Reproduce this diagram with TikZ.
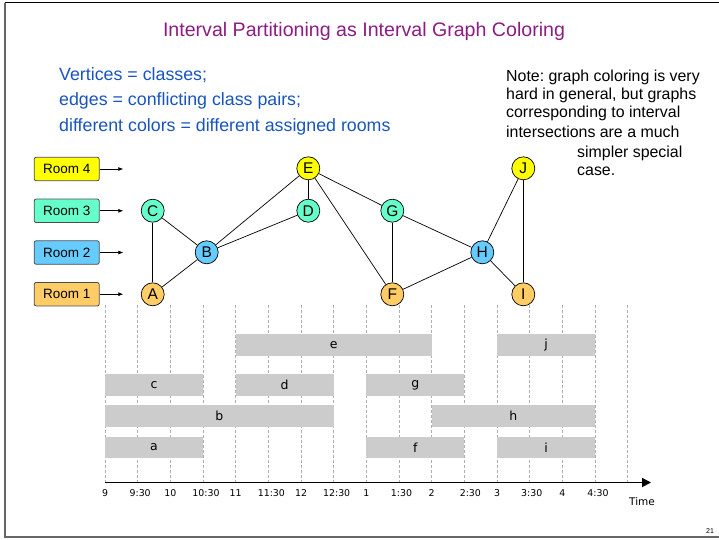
\documentclass[tikz,border=0pt]{standalone}
\usepackage{fontspec}
\setmainfont{Liberation Sans}
\newfontfamily\comicf{DejaVu Sans}
\usetikzlibrary{arrows.meta}
\frenchspacing
\definecolor{titlepurple}{RGB}{140,28,130}
\definecolor{textblue}{RGB}{24,84,190}
\definecolor{roomyellow}{RGB}{255,255,0}
\definecolor{roommint}{RGB}{102,255,204}
\definecolor{roomblue}{RGB}{102,204,255}
\definecolor{roomorange}{RGB}{255,204,102}
\definecolor{bargray}{RGB}{204,204,204}
\definecolor{gridgray}{RGB}{175,175,175}
\begin{document}
\begin{tikzpicture}[x=1pt,y=-1pt,
  room/.style={draw=black!70, rounded corners=2pt, minimum width=65pt, minimum height=23.5pt, inner sep=0pt, font=\fontsize{13.5}{13.5}\selectfont, line width=0.8pt},
  vert/.style={circle, draw, line width=0.7pt, minimum size=23pt, inner sep=0pt, font=\fontsize{15.5}{15.5}\selectfont},
  edge/.style={line width=0.7pt},
  roomarrow/.style={-{Latex[length=5pt,width=4pt]}, line width=0.7pt},
  bar/.style={fill=bargray, draw=none, inner sep=0pt, minimum height=21.5pt, font=\comicf\fontsize{12.5}{12.5}\selectfont},
  gridline/.style={gridgray, dash pattern=on 3pt off 2pt, line width=0.6pt},
  tlabel/.style={font=\comicf\fontsize{9.4}{9.4}\selectfont, anchor=base, inner sep=0pt},
  bluetext/.style={textblue, anchor=base west, inner sep=0pt, font=\fontsize{17.8}{20}\selectfont},
  notetext/.style={black, anchor=base west, inner sep=0pt, font=\fontsize{15.9}{18}\selectfont}
]
\useasboundingbox (0,0) rectangle (719,539);
% frame
\coordinate (ftl) at (4.5,2.5);
\coordinate (ftr) at (719,2.5);
\coordinate (fbl) at (4.5,537);
\coordinate (fbr) at (719,537);
\draw[black, line width=1.5pt] (ftl) -- (ftr);
\draw[black!60, line width=2pt] (ftl) -- (fbl) -- (fbr);

% title
\node[titlepurple, anchor=base, inner sep=0pt, font=\fontsize{19.6}{22}\selectfont] (title) at (364,36.5) {Interval Partitioning as Interval Graph Coloring};

% blue text
\node[bluetext] (l1) at (59,80) {Vertices = classes;};
\node[bluetext] (l2) at (59,105.5) {edges = conflicting class pairs;};
\node[bluetext] (l3) at (59,131) {different colors = different assigned rooms};

% note
\node[notetext] (n1) at (506,81.7) {Note: graph coloring is very};
\node[notetext] (n2) at (506,99.5) {hard in general, but graphs};
\node[notetext] (n3) at (506,117.5) {corresponding to interval};
\node[notetext] (n4) at (506,137.3) {intersections are a much};
\node[notetext] (n5) at (577,157.3) {simpler special};
\node[notetext] (n6) at (577,175.7) {case.};

% rooms
\node[room, fill=roomyellow] (r4) at (66.7,169) {Room 4};
\node[room, fill=roommint] (r3) at (66.7,210.8) {Room 3};
\node[room, fill=roomblue] (r2) at (66.7,252.5) {Room 2};
\node[room, fill=roomorange] (r1) at (66.7,294.2) {Room 1};
\coordinate (r4a) at (123.3,169);
\coordinate (r3a) at (123.3,210.8);
\coordinate (r2a) at (123.3,252.5);
\coordinate (r1a) at (123.3,294.2);
\draw[roomarrow] (r4.east) -- (r4a);
\draw[roomarrow] (r3.east) -- (r3a);
\draw[roomarrow] (r2.east) -- (r2a);
\draw[roomarrow] (r1.east) -- (r1a);

% graph vertices
\node[vert, fill=roommint] (C) at (152.7,210.7) {C};
\node[vert, fill=roomblue] (B) at (206.7,252.3) {B};
\node[vert, fill=roomorange] (A) at (152.7,294.3) {A};
\node[vert, fill=roomyellow] (E) at (308.3,168.3) {E};
\node[vert, fill=roommint] (D) at (308.3,210.7) {D};
\node[vert, fill=roommint] (G) at (392.3,210.7) {G};
\node[vert, fill=roomblue] (H) at (482.3,252.3) {H};
\node[vert, fill=roomorange] (F) at (392.3,294.3) {F};
\node[vert, fill=roomyellow] (J) at (523.3,168.3) {J};
\node[vert, fill=roomorange] (I) at (523.3,294.3) {I};

\draw[edge] (C) -- (A);
\draw[edge] (C) -- (B);
\draw[edge] (A) -- (B);
\draw[edge] (B) -- (E);
\draw[edge] (B) -- (D);
\draw[edge] (E) -- (D);
\draw[edge] (E) -- (G);
\draw[edge] (E) -- (F);
\draw[edge] (G) -- (F);
\draw[edge] (G) -- (H);
\draw[edge] (F) -- (H);
\draw[edge] (H) -- (J);
\draw[edge] (H) -- (I);
\draw[edge] (J) -- (I);

% grid lines
\foreach \k in {0,...,16} {
  \coordinate (gt\k) at ({105+32.667*\k},305);
  \coordinate (gb\k) at ({105+32.667*\k},482);
  \draw[gridline] (gt\k) -- (gb\k);
}

% bars
\node[bar, minimum width=196pt] (e) at (333.7,345) {e};
\node[bar, minimum width=98pt] (j) at (546,345) {j};
\node[bar, minimum width=98pt] (c) at (154,385) {c};
\node[bar, minimum width=98pt] (d) at (284.7,385) {d};
\node[bar, minimum width=98pt] (g) at (415.3,385) {g};
\node[bar, minimum width=228.7pt] (b) at (219.3,416) {b};
\node[bar, minimum width=163.3pt] (h) at (513.3,416) {h};
\node[bar, minimum width=98pt] (a) at (154,447.5) {a};
\node[bar, minimum width=98pt] (f) at (415.3,447.5) {f};
\node[bar, minimum width=98pt] (i) at (546,447.5) {i};

% axis
\coordinate (axs) at (105,482.5);
\coordinate (axe) at (651,482.5);
\draw[line width=1.8pt, -{Triangle[length=9pt,width=9pt]}] (axs) -- (axe);

% time labels
\foreach \k/\t/\dx in {0/9/0,1/9:30/2.5,2/10/0,3/10:30/3,4/11/0,5/11:30/3,6/12/0,7/12:30/3,8/1/0,9/1:30/2.5,10/2/0,11/2:30/6,12/3/0,13/3:30/2,14/4/0,15/4:30/3} {
  \node[tlabel] (t\k) at ({105+32.667*\k+\dx},496) {\t};
}
\node[font=\comicf\fontsize{10.5}{10.5}\selectfont, inner sep=0pt] (time) at (642,502) {Time};

% page number
\node[font=\fontsize{7}{7}\selectfont, inner sep=0pt] (pg) at (710,531) {21};
\end{tikzpicture}
\end{document}
